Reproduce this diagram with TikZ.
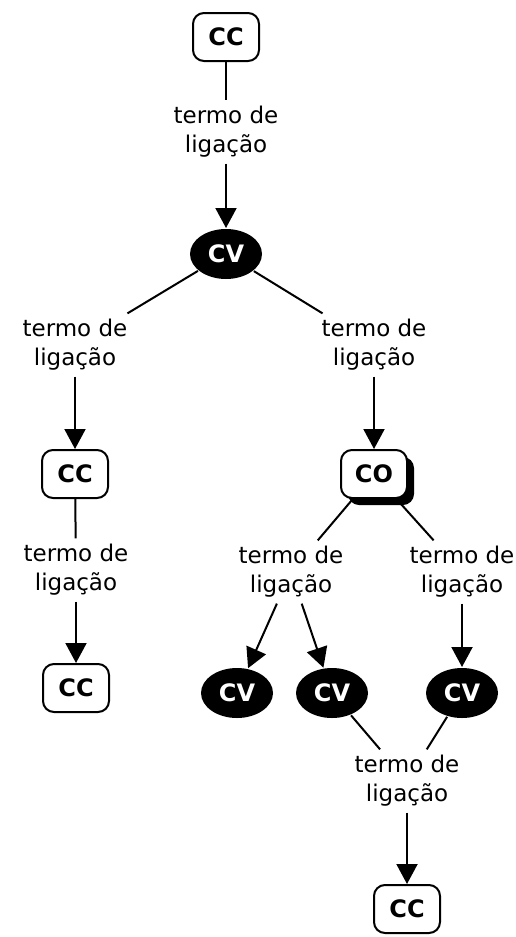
\documentclass[tikz,border=0pt]{standalone}
\usepackage{fontspec}
\setmainfont{DejaVu Sans}
\usetikzlibrary{arrows.meta,shapes.geometric,shadows}

\begin{document}
\begin{tikzpicture}[x=1pt,y=-1pt,
  line width=2pt,
  conc/.style={draw,rounded corners=11pt,minimum width=66pt,minimum height=48pt,
    fill=white,font=\fontsize{24}{28}\selectfont\bfseries},
  verb/.style={ellipse,fill=black,text=white,minimum width=72pt,minimum height=50pt,
    inner sep=0pt,font=\fontsize{24}{28}\selectfont\bfseries},
  link/.style={align=center,inner sep=5pt,font=\fontsize{23}{29}\selectfont},
  arr/.style={-{Triangle[width=21pt,length=20pt]}}]

\useasboundingbox (0,0) rectangle (515,937); %% page size

\node[conc] (cc1) at (226,37) {CC};
\node[link] (l1)  at (226,132) {termo de\\ligação};
\node[verb] (cv1) at (226,254) {CV};

\node[link] (l2)  at (75,345) {termo de\\ligação};
\node[link] (l3)  at (374,345) {termo de\\ligação};

\node[conc] (cc2) at (75,474) {CC};
\node[conc,drop shadow={shadow xshift=7pt,shadow yshift=-7pt,opacity=1,fill=black}]
  (co) at (374,474) {CO};

\node[link] (l4)  at (76,570) {termo de\\ligação};
\node[link] (l5)  at (291,572) {termo de\\ligação};
\node[link] (l6)  at (462,572) {termo de\\ligação};

\node[conc] (cc3) at (76,688) {CC};
\node[verb] (cv2) at (237,693) {CV};
\node[verb] (cv3) at (332,693) {CV};
\node[verb] (cv4) at (462,693) {CV};

\node[link] (l7)  at (407,781) {termo de\\ligação};
\node[conc] (cc4) at (407,909) {CC};

%% plain lines into the linking phrases
\draw (cc1) -- (l1);
\draw (cv1) -- (l2);
\draw (cv1) -- (l3);
\draw (cc2) -- (l4);
\draw (co)  -- (l5);
\draw (co)  -- (l6);
\draw (cv3) -- (l7);
\draw (cv4) -- (l7);

%% arrows out of the linking phrases
\draw[arr] (l1) -- (cv1);
\draw[arr] (l2) -- (cc2);
\draw[arr] (l3) -- (co);
\draw[arr] (l4) -- (cc3);
\draw[arr] (l5) -- (cv2);
\draw[arr] (l5) -- (cv3);
\draw[arr] (l6) -- (cv4);
\draw[arr] (l7) -- (cc4);

\end{tikzpicture}
\end{document}
